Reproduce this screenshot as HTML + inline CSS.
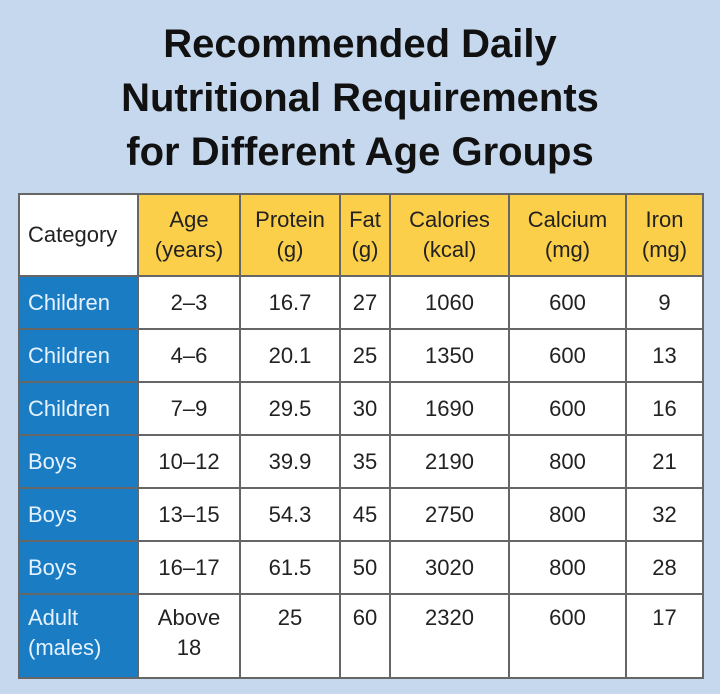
<!DOCTYPE html>
<html><head><style>
body{margin:0;width:720px;height:694px;background:#c6d8ee;font-family:"Liberation Sans",sans-serif;position:relative;overflow:hidden}
.t{position:absolute;left:0;width:720px;text-align:center;font-weight:bold;font-size:40px;color:#111;line-height:54px;top:17px}
table{position:absolute;left:18px;top:193px;border-collapse:collapse;background:#fff;font-size:22px;color:#222}
td{border:2px solid #666;text-align:center;padding:0;line-height:30px}
tr.h td{background:#fccf4a;height:80px}
tr.h td.c{background:#fff;text-align:left;padding-left:8px}
td.b{background:#1a7dc4;color:#e6f2ff;text-align:left;padding-left:8px}
tr.r td{height:51px}
tr.l td{height:74px;vertical-align:top;padding-top:8px}
</style></head><body>
<div class="t">Recommended Daily<br>Nutritional Requirements<br>for Different Age Groups</div>
<table>
<colgroup><col style="width:119px"><col style="width:102px"><col style="width:100px"><col style="width:50px"><col style="width:119px"><col style="width:117px"><col style="width:77px"></colgroup>
<tr class="h"><td class="c">Category</td><td>Age<br>(years)</td><td>Protein<br>(g)</td><td>Fat<br>(g)</td><td>Calories<br>(kcal)</td><td>Calcium<br>(mg)</td><td>Iron<br>(mg)</td></tr>
<tr class="r"><td class="b">Children</td><td>2–3</td><td>16.7</td><td>27</td><td>1060</td><td>600</td><td>9</td></tr>
<tr class="r"><td class="b">Children</td><td>4–6</td><td>20.1</td><td>25</td><td>1350</td><td>600</td><td>13</td></tr>
<tr class="r"><td class="b">Children</td><td>7–9</td><td>29.5</td><td>30</td><td>1690</td><td>600</td><td>16</td></tr>
<tr class="r"><td class="b">Boys</td><td>10–12</td><td>39.9</td><td>35</td><td>2190</td><td>800</td><td>21</td></tr>
<tr class="r"><td class="b">Boys</td><td>13–15</td><td>54.3</td><td>45</td><td>2750</td><td>800</td><td>32</td></tr>
<tr class="r"><td class="b">Boys</td><td>16–17</td><td>61.5</td><td>50</td><td>3020</td><td>800</td><td>28</td></tr>
<tr class="l"><td class="b">Adult<br>(males)</td><td>Above<br>18</td><td>25</td><td>60</td><td>2320</td><td>600</td><td>17</td></tr>
</table>
</body></html>
